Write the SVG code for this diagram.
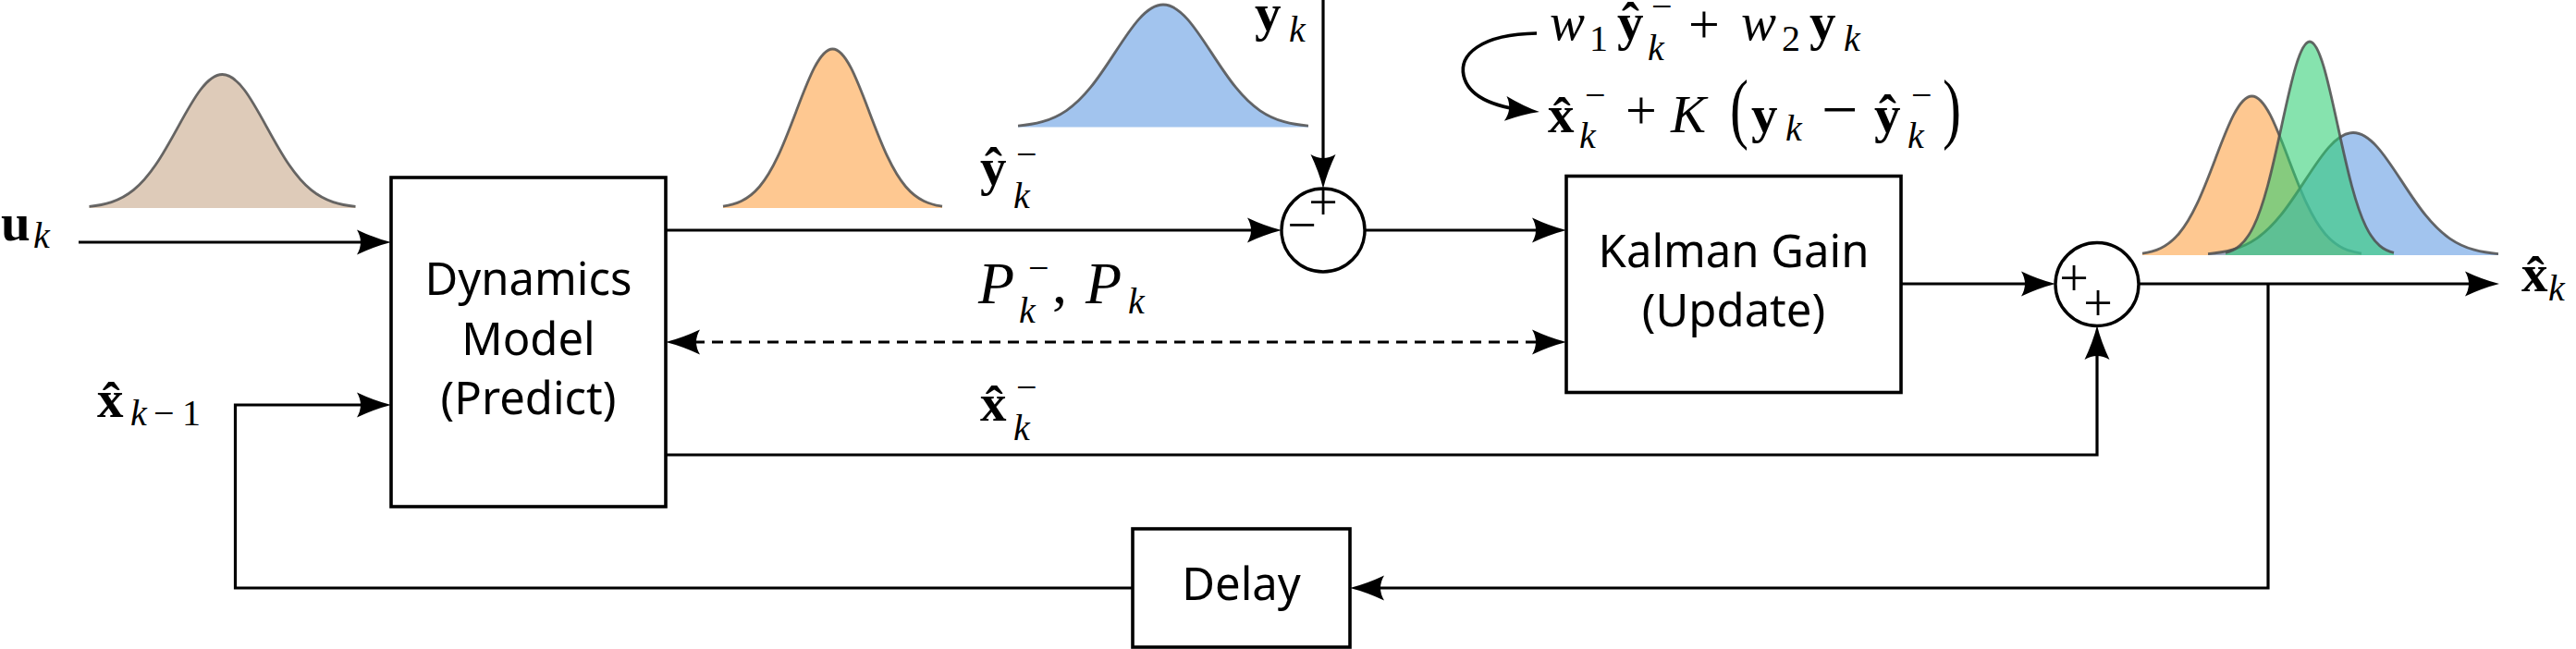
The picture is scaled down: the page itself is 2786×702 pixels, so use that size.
<svg xmlns="http://www.w3.org/2000/svg" xmlns:xlink="http://www.w3.org/1999/xlink" width="2786" height="702" viewBox="0 0 2786 702">
<style>
.ln{fill:none;stroke:#000;stroke-width:3.2}
.dash{stroke-dasharray:12 8}
.box{fill:#fff;stroke:#000;stroke-width:3.6}
.circ{fill:#fff;stroke:#000;stroke-width:3.4}
.bt{font-family:"Noto Sans","Liberation Sans",sans-serif;font-size:49px;text-anchor:middle;fill:#000}
.m{font-family:"Liberation Serif","Times New Roman",serif;font-size:57px;fill:#000}
.b{font-weight:bold}
.i{font-style:italic}
.s{font-size:40px}
.op{font-size:60px}
.sg{font-family:"Liberation Serif",serif;font-size:56px;text-anchor:middle;fill:#000}
.gs{fill:none;stroke:#4d4d4d;stroke-opacity:.85;stroke-width:2.8}
.brown{fill:#DECBB9}
.orange{fill:#FEC891}
.blue{fill:#649DE3;fill-opacity:.6}
.green{fill:#2BCE71;fill-opacity:.57}
</style>
<defs>
<marker id="ah" viewBox="-50 -16 52 32" refX="-10" refY="0" markerWidth="52" markerHeight="32" markerUnits="userSpaceOnUse" orient="auto-start-reverse">
<path d="M0,0 Q-18,-4.5 -37,-13.5 Q-29,0 -37,13.5 Q-18,4.5 0,0 Z" fill="#000"/>
</marker>
<path id="gc" vector-effect="non-scaling-stroke" d="M-300,-1.11 C-283.33,-1.67 -266.67,-2.56 -250,-4.39 C-233.33,-6.22 -216.67,-9.02 -200,-13.53 C-183.33,-18.04 -166.67,-24.35 -150,-32.47 C-133.33,-40.59 -116.67,-50.54 -100,-60.65 C-83.33,-70.76 -66.67,-80.9 -50,-88.25 C-33.33,-95.6 -16.67,-100 0,-100 C16.67,-100 33.33,-95.6 50,-88.25 C66.67,-80.9 83.33,-70.76 100,-60.65 C116.67,-50.54 133.33,-40.59 150,-32.47 C166.67,-24.35 183.33,-18.04 200,-13.53 C216.67,-9.02 233.33,-6.22 250,-4.39 C266.67,-2.56 283.33,-1.67 300,-1.11"/>
<path id="gf" d="M-300,-1.11 C-283.33,-1.67 -266.67,-2.56 -250,-4.39 C-233.33,-6.22 -216.67,-9.02 -200,-13.53 C-183.33,-18.04 -166.67,-24.35 -150,-32.47 C-133.33,-40.59 -116.67,-50.54 -100,-60.65 C-83.33,-70.76 -66.67,-80.9 -50,-88.25 C-33.33,-95.6 -16.67,-100 0,-100 C16.67,-100 33.33,-95.6 50,-88.25 C66.67,-80.9 83.33,-70.76 100,-60.65 C116.67,-50.54 133.33,-40.59 150,-32.47 C166.67,-24.35 183.33,-18.04 200,-13.53 C216.67,-9.02 233.33,-6.22 250,-4.39 C266.67,-2.56 283.33,-1.67 300,-1.11 L300,0 L-300,0 Z"/>
</defs>
<rect width="2786" height="702" fill="#fff"/>

<g id="distributions">
<g id="dist-input" transform="translate(240.5,225) scale(0.48,1.445)"><use xlink:href="#gf" class="brown"/><use xlink:href="#gc" class="gs"/></g>
<g id="dist-predicted" transform="translate(900.5,225) scale(0.395,1.72)"><use xlink:href="#gf" class="orange"/><use xlink:href="#gc" class="gs"/></g>
<g id="dist-measurement" transform="translate(1258,137.5) scale(0.5233,1.325)"><use xlink:href="#gf" class="blue"/><use xlink:href="#gc" class="gs"/></g>
<g id="dist-fused">
<g transform="translate(2435.5,276) scale(0.395,1.72)"><use xlink:href="#gf" class="orange"/><use xlink:href="#gc" class="gs"/></g>
<g transform="translate(2545,276) scale(0.5233,1.325)"><use xlink:href="#gf" class="blue"/><use xlink:href="#gc" class="gs"/></g>
<g transform="translate(2498,276) scale(0.3033,2.31)"><use xlink:href="#gf" class="green"/><use xlink:href="#gc" class="gs"/></g>
</g>
</g>

<g id="connectors">
<path class="ln" d="M85,262 H413" marker-end="url(#ah)"/>
<path class="ln" d="M1225,636 H254.5 V438 H413" marker-end="url(#ah)"/>
<path class="ln" d="M720,249 H1376" marker-end="url(#ah)"/>
<path class="ln" d="M1431,0 V194" marker-end="url(#ah)"/>
<path class="ln" d="M1476,249 H1684" marker-end="url(#ah)"/>
<path class="ln dash" d="M730,370 H1684" marker-start="url(#ah)" marker-end="url(#ah)"/>
<path class="ln" d="M2056,307 H2213" marker-end="url(#ah)"/>
<path class="ln" d="M720,492 H2268 V362" marker-end="url(#ah)"/>
<path class="ln" d="M2313,307 H2693" marker-end="url(#ah)"/>
<path class="ln" d="M2453,307 V636 H1470" marker-end="url(#ah)"/>
<path class="ln" style="stroke-width:3.6" d="M1662,36 C1600,37 1578,60 1583,82 C1588,104 1615,116 1655,120" marker-end="url(#ah)"/>
</g>

<g id="dynamics">
<rect class="box" x="423" y="192" width="297" height="356"/>
<text class="bt" x="571.5" y="319">Dynamics</text>
<text class="bt" x="571.5" y="384">Model</text>
<text class="bt" x="571.5" y="448">(Predict)</text>
</g>
<g id="kalman">
<rect class="box" x="1694" y="190.5" width="362" height="234"/>
<text class="bt" x="1875" y="289">Kalman Gain</text>
<text class="bt" x="1875" y="353">(Update)</text>
</g>
<g id="delay">
<rect class="box" x="1225" y="572" width="235" height="128"/>
<text class="bt" x="1342.5" y="649">Delay</text>
</g>
<g id="sum1">
<circle class="circ" cx="1431" cy="249" r="45"/>
<text class="sg" x="1431" y="238">+</text>
<text class="sg" x="1408" y="262">−</text>
</g>
<g id="sum2">
<circle class="circ" cx="2268" cy="307.5" r="45"/>
<text class="sg" x="2243" y="320">+</text>
<text class="sg" x="2269" y="347">+</text>
</g>

<g id="labels">
<text class="m"><tspan class="b" x="1" y="260">u</tspan><tspan class="i s" x="36" y="268">k</tspan></text>
<text class="m"><tspan class="b" x="105" y="451">x̂</tspan><tspan class="i s" x="141" y="460">k</tspan><tspan class="s" x="166" y="460">−</tspan><tspan class="s" x="197" y="460">1</tspan></text>
<text class="m"><tspan class="b" x="1357" y="33">y</tspan><tspan class="i s" x="1394" y="45">k</tspan></text>
<text class="m"><tspan class="b" x="1060" y="200">ŷ</tspan><tspan class="s" x="1099" y="180">−</tspan><tspan class="i s" x="1096" y="225">k</tspan></text>
<text class="m" style="font-size:64px"><tspan class="i" x="1058" y="328">P</tspan><tspan class="s" x="1112" y="303">−</tspan><tspan class="i s" x="1102" y="349">k</tspan><tspan x="1138" y="328">,</tspan><tspan class="i" x="1174" y="328">P</tspan><tspan class="i s" x="1220" y="339">k</tspan></text>
<text class="m"><tspan class="b" x="1060" y="455">x̂</tspan><tspan class="s" x="1099" y="432">−</tspan><tspan class="i s" x="1096" y="476">k</tspan></text>
<text class="m"><tspan class="b" x="2727" y="315">x̂</tspan><tspan class="i s" x="2756" y="325">k</tspan></text>
</g>

<g id="update-formula">
<text class="m"><tspan class="i" x="1676" y="43">w</tspan><tspan class="s" x="1719" y="55">1</tspan><tspan class="b" x="1749" y="43">ŷ</tspan><tspan class="s" x="1786" y="20">−</tspan><tspan class="i s" x="1782" y="65">k</tspan><tspan class="op" x="1826" y="46">+</tspan><tspan class="i" x="1883" y="43">w</tspan><tspan class="s" x="1927" y="55">2</tspan><tspan class="b" x="1957" y="43">y</tspan><tspan class="i s" x="1994" y="55">k</tspan></text>
<text class="m"><tspan class="b" x="1674" y="143">x̂</tspan><tspan class="s" x="1714" y="116">−</tspan><tspan class="i s" x="1708" y="160">k</tspan><tspan class="op" x="1758" y="139">+</tspan><tspan class="i" x="1807" y="143">K</tspan><tspan class="b" x="1894" y="143">y</tspan><tspan class="i s" x="1931" y="152">k</tspan><tspan style="font-size:70px" x="1970" y="142">−</tspan><tspan class="b" x="2027" y="143">ŷ</tspan><tspan class="s" x="2067" y="116">−</tspan><tspan class="i s" x="2063" y="160">k</tspan></text>
<text class="m" style="font-size:60px" transform="translate(1871,145) scale(1,1.4)">(</text>
<text class="m" style="font-size:60px" transform="translate(2101,145) scale(1,1.4)">)</text>
</g>
</svg>
